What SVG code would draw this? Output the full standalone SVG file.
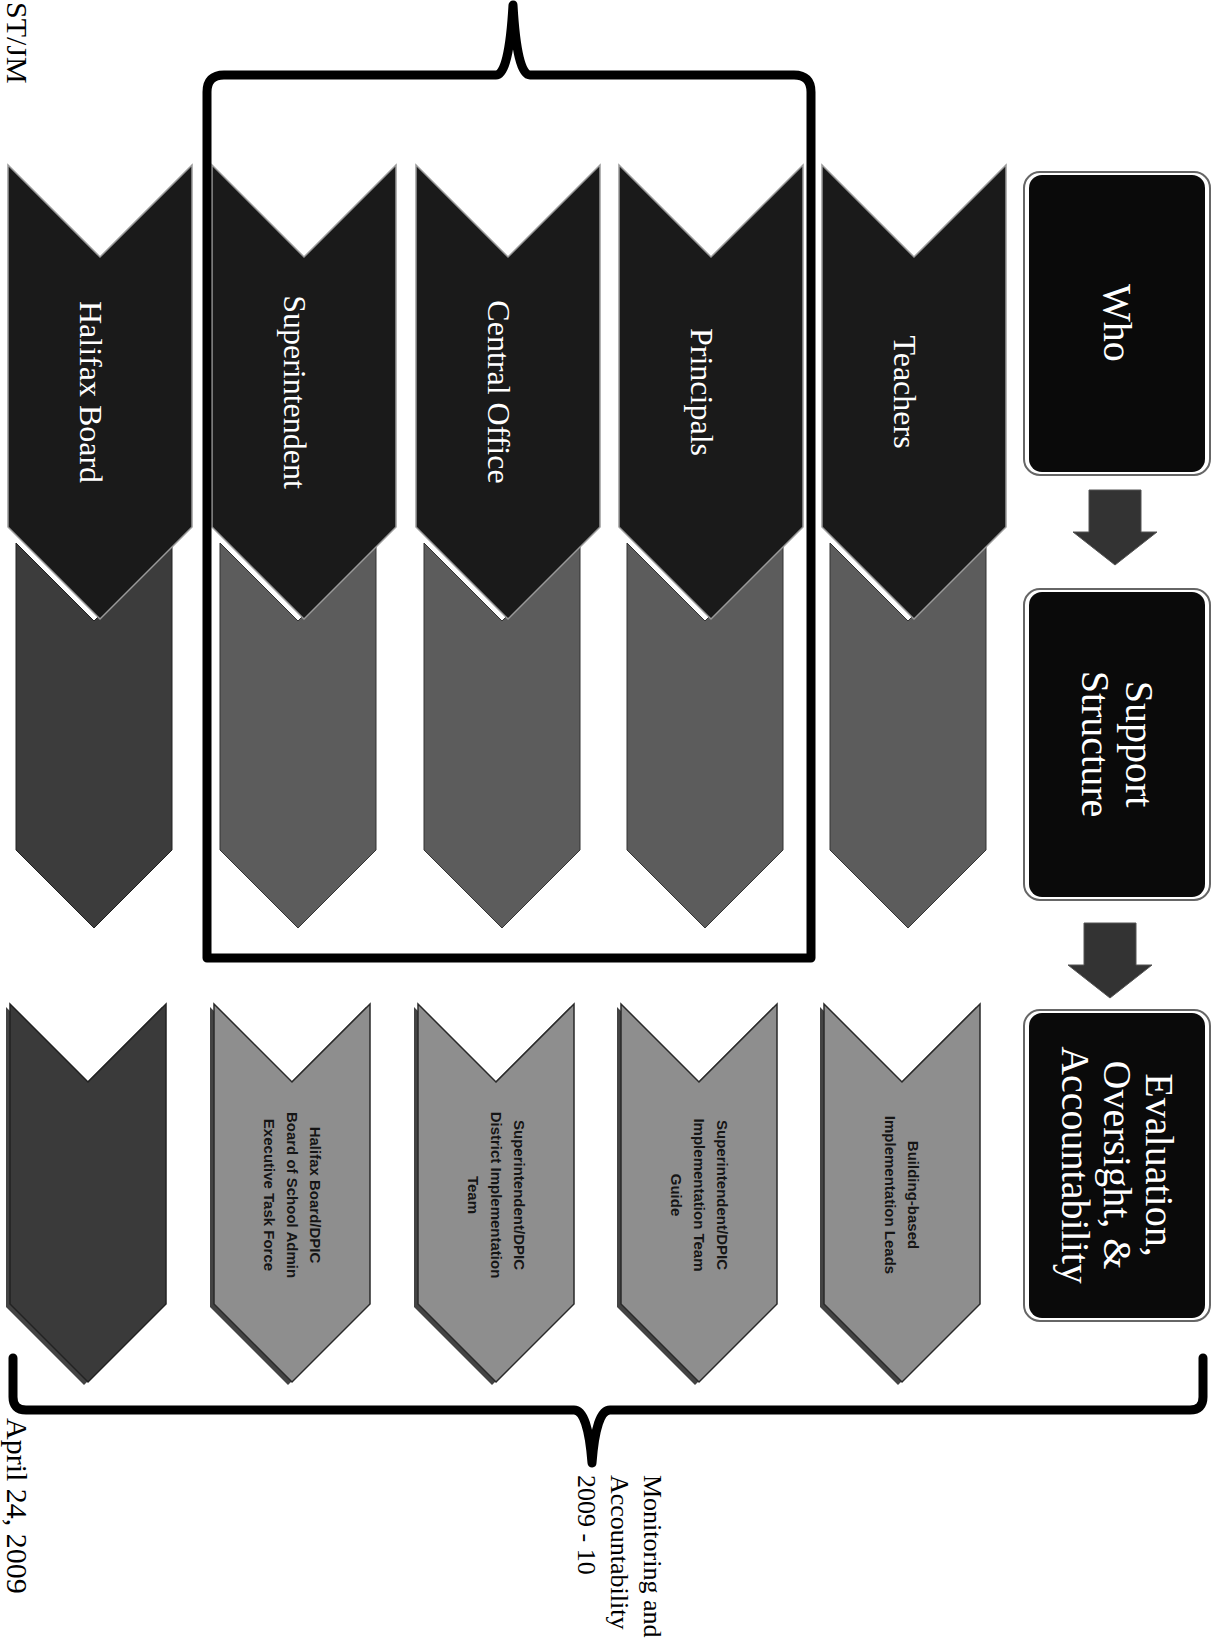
<svg xmlns="http://www.w3.org/2000/svg" xmlns:xlink="http://www.w3.org/1999/xlink" width="1218" height="1646" viewBox="0 0 1218 1646">
<style>
.c1{fill:#1a1a1a;stroke:#9a9a9a;stroke-width:1.5}
.c2{fill:#5c5c5c;stroke:#333;stroke-width:1}
.c2d{fill:#3c3c3c;stroke:#222;stroke-width:1}
.c3{fill:#8e8e8e;stroke:#2a2a2a;stroke-width:1.5}
.c3d{fill:#3a3a3a;stroke:#222;stroke-width:1.5}
.sh{fill:#222;opacity:0.85}
.lbl{font-family:"Liberation Serif","Times New Roman",serif;font-size:32px;fill:#fff;text-anchor:middle}
.hdr{font-family:"Liberation Serif","Times New Roman",serif;font-size:40px;fill:#fff;text-anchor:middle}
.sm{font-family:"Liberation Sans",Arial,sans-serif;font-size:15px;font-weight:bold;fill:#151515;text-anchor:middle}
.note{font-family:"Liberation Serif","Times New Roman",serif;font-size:26px;fill:#000}
.foot{font-family:"Liberation Serif","Times New Roman",serif;font-size:30px;fill:#000}
.brace{fill:none;stroke:#000;stroke-width:9;stroke-linejoin:round;stroke-linecap:round}
.boxo{fill:#fff;stroke:#666;stroke-width:2}
.boxi{fill:#0a0a0a}
.arr{fill:#333;stroke:#555;stroke-width:1}
</style>
<defs>
<polygon id="ch1" points="165,-92 527,-92 619,0 527,92 165,92 257,0"/>
<polygon id="ch2" points="543,-78 850,-78 928,0 850,78 543,78 621,0"/>
<polygon id="ch3" points="1004,-78 1304,-78 1382,0 1304,78 1004,78 1082,0"/>
<polygon id="arrow" points="0,-26 42,-26 42,-42 75,0 42,42 42,26 0,26"/>
</defs>
<rect width="1218" height="1646" fill="#fff"/>

<g transform="translate(1218,0) rotate(90)">
  <text class="foot" x="2" y="1211">ST/JM</text>
  <text class="foot" x="1418" y="1211">April 24, 2009</text>

  <g id="header-who">
    <rect class="boxo" x="172" y="8" width="303" height="186" rx="16"/>
    <rect class="boxi" x="175" y="13" width="297" height="176" rx="13"/>
    <text class="hdr" x="323" y="114">Who</text>
  </g>
  <g id="header-support">
    <rect class="boxo" x="589" y="8" width="311" height="186" rx="16"/>
    <rect class="boxi" x="592" y="13" width="305" height="176" rx="13"/>
    <text class="hdr" x="744" y="92">Support</text>
    <text class="hdr" x="744" y="136">Structure</text>
  </g>
  <g id="header-eval">
    <rect class="boxo" x="1010" y="8" width="311" height="186" rx="16"/>
    <rect class="boxi" x="1013" y="13" width="305" height="176" rx="13"/>
    <text class="hdr" x="1165" y="72">Evaluation,</text>
    <text class="hdr" x="1165" y="114">Oversight, &amp;</text>
    <text class="hdr" x="1165" y="156">Accountability</text>
  </g>

  <g id="row-teachers">
    <use xlink:href="#ch2" class="c2" y="310"/>
    <use xlink:href="#ch1" class="c1" y="304"/>
    <text class="lbl" x="392" y="324">Teachers</text>
    <use xlink:href="#ch3" class="sh" x="3" y="320"/>
    <use xlink:href="#ch3" class="c3" y="316"/>
    <text class="sm" x="1195" y="310">Building-based</text>
    <text class="sm" x="1195" y="333">Implementation Leads</text>
  </g>
  <g id="row-principals">
    <use xlink:href="#ch2" class="c2" y="513"/>
    <use xlink:href="#ch1" class="c1" y="507"/>
    <text class="lbl" x="392" y="527">Principals</text>
    <use xlink:href="#ch3" class="sh" x="3" y="523"/>
    <use xlink:href="#ch3" class="c3" y="519"/>
    <text class="sm" x="1195" y="501">Superintendent/DPIC</text>
    <text class="sm" x="1195" y="524">Implementation Team</text>
    <text class="sm" x="1195" y="547">Guide</text>
  </g>
  <g id="row-central-office">
    <use xlink:href="#ch2" class="c2" y="716"/>
    <use xlink:href="#ch1" class="c1" y="710"/>
    <text class="lbl" x="392" y="730">Central Office</text>
    <use xlink:href="#ch3" class="sh" x="3" y="726"/>
    <use xlink:href="#ch3" class="c3" y="722"/>
    <text class="sm" x="1195" y="704">Superintendent/DPIC</text>
    <text class="sm" x="1195" y="727">District Implementation</text>
    <text class="sm" x="1195" y="750">Team</text>
  </g>
  <g id="row-superintendent">
    <use xlink:href="#ch2" class="c2" y="920"/>
    <use xlink:href="#ch1" class="c1" y="914"/>
    <text class="lbl" x="392" y="934">Superintendent</text>
    <use xlink:href="#ch3" class="sh" x="3" y="930"/>
    <use xlink:href="#ch3" class="c3" y="926"/>
    <text class="sm" x="1195" y="908">Halifax Board/DPIC</text>
    <text class="sm" x="1195" y="931">Board of School Admin</text>
    <text class="sm" x="1195" y="954">Executive Task Force</text>
  </g>
  <g id="row-halifax-board">
    <use xlink:href="#ch2" class="c2d" y="1124"/>
    <use xlink:href="#ch1" class="c1" y="1118"/>
    <text class="lbl" x="392" y="1138">Halifax Board</text>
    <use xlink:href="#ch3" class="sh" x="3" y="1134"/>
    <use xlink:href="#ch3" class="c3d" y="1130"/>
  </g>

  <g id="connectors-arrows">
    <use xlink:href="#arrow" class="arr" x="490" y="103"/>
    <use xlink:href="#arrow" class="arr" x="923" y="108"/>
  </g>

  <g id="label-monitoring">
    <text class="note" x="1475" y="574">Monitoring and</text>
    <text class="note" x="1475" y="607">Accountability</text>
    <text class="note" x="1475" y="640">2009 - 10</text>
  </g>
</g>

<g id="connectors">
  <path class="brace" d="M207,958 L207,92 Q207,75 224,75 L496,75 Q509,75 513,5 Q517,75 530,75 L794,75 Q811,75 811,92 L811,958 Z"/>
  <path class="brace" d="M13,1358 L13,1397 Q13,1410 26,1410 L574,1410 Q588,1410 592,1463 Q596,1410 610,1410 L1190,1410 Q1203,1410 1203,1397 L1203,1358"/>
</g>
</svg>
